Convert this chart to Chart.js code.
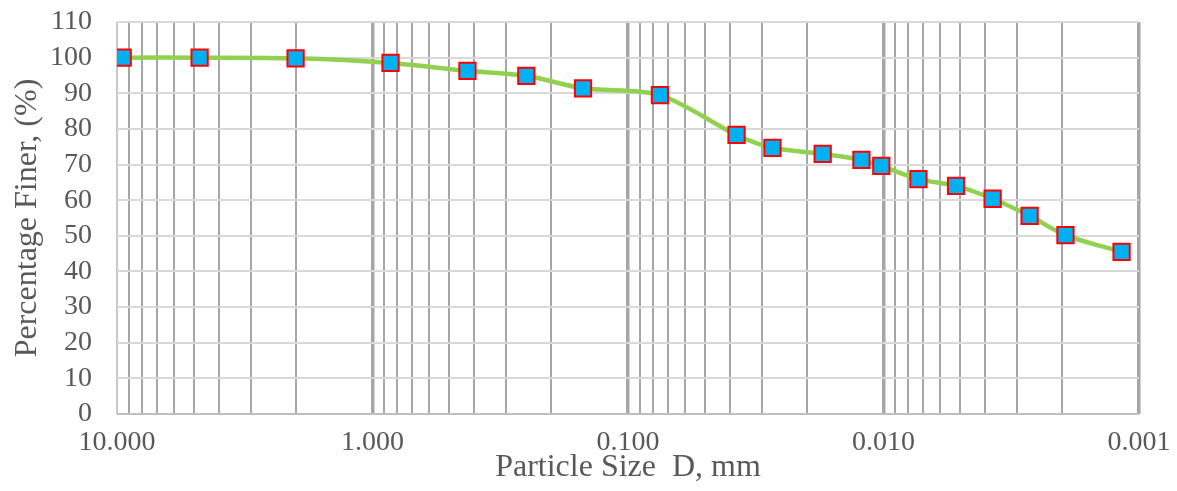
<!DOCTYPE html>
<html>
<head>
<meta charset="utf-8">
<script src="https://cdn.jsdelivr.net/npm/chart.js@4.4.0/dist/chart.umd.min.js"></script>
<style>
  html, body { margin: 0; padding: 0; background: #fff; }
  #wrap { width: 1177px; height: 491px; }
</style>
</head>
<body>
<div id="wrap"><canvas id="chartCanvas"></canvas></div>
<script>
// Grain size distribution (sieve + hydrometer)
const particleSize = [9.5, 4.75, 2.0, 0.85, 0.425, 0.25, 0.15, 0.075,
  0.0376, 0.0272, 0.0173, 0.0122, 0.0102, 0.0073, 0.0052, 0.00374, 0.00268, 0.00194, 0.00117];
const percentFiner = [100, 100, 99.8, 98.5, 96.3, 94.9, 91.4, 89.5,
  78.3, 74.7, 73.0, 71.3, 69.6, 65.9, 64.0, 60.4, 55.6, 50.2, 45.5];

// Axis ranges / ticks
const xDecades = [10, 1, 0.1, 0.01, 0.001];
const yMin = 0;
const yMax = 110;
const yStep = 10;

const textColor = '#595959';
const fontFamily = '"Liberation Serif", "Times New Roman", serif';

function isDecade(v) {
  return xDecades.some(d => Math.abs(v - d) < d * 1e-6);
}

const points = particleSize.map((d, i) => ({ x: d, y: percentFiner[i] }));

const ctx = document.getElementById('chartCanvas').getContext('2d');
const chart = new Chart(ctx, {
  type: 'line',
  data: {
    datasets: [{
      label: 'Percentage Finer',
      data: points,
      borderColor: '#92d050',
      borderWidth: 4.5,
      tension: 0.3,
      fill: false,
      pointStyle: 'rect',
      pointRadius: 11.5,
      pointHoverRadius: 11.5,
      pointBackgroundColor: '#00b0f0',
      pointBorderColor: '#ff0000',
      pointBorderWidth: 2,
    }]
  },
  options: {
    responsive: true,
    maintainAspectRatio: false,
    animation: false,
    events: [],
    layout: {
      padding: { top: 22, right: 38, left: 0, bottom: 0 }
    },
    plugins: {
      legend: { display: false },
      tooltip: { enabled: false }
    },
    scales: {
      x: {
        type: 'logarithmic',
        min: 0.001,
        max: 10,
        reverse: true,
        afterBuildTicks: (scale) => {
          const ticks = [];
          for (let e = -3; e <= 0; e++) {
            for (let s = 1; s <= 9; s++) {
              ticks.push({ value: s * Math.pow(10, e) });
            }
          }
          ticks.push({ value: 10 });
          scale.ticks = ticks;
        },
        afterFit: (scale) => { scale.height = 77; },
        border: { display: false },
        grid: {
          drawTicks: false,
          color: (c) => (c.tick && Math.abs(c.tick.value - 10) < 1e-6) ? '#c8c8c8' : '#a6a6a6',
          lineWidth: (c) => {
            if (!c.tick) return 2;
            if (Math.abs(c.tick.value - 10) < 1e-6) return 2;
            return isDecade(c.tick.value) ? 3.5 : 2;
          }
        },
        ticks: {
          autoSkip: false,
          maxRotation: 0,
          minRotation: 0,
          padding: 12,
          color: textColor,
          font: { family: fontFamily, size: 28 },
          callback: (v) => isDecade(v) ? Number(v).toFixed(3) : ''
        },
        title: {
          display: true,
          text: 'Particle Size  D, mm',
          color: textColor,
          font: { family: fontFamily, size: 32 },
          padding: { top: 0, bottom: 4 }
        }
      },
      y: {
        min: yMin,
        max: yMax,
        afterFit: (scale) => {
          scale.width = 117;
          // tick padding should not push the plot area down
          scale.paddingTop = 0;
          scale.paddingBottom = 0;
        },
        border: { display: false },
        grid: {
          drawTicks: false,
          color: (c) => (c.tick && c.tick.value === 0) ? '#bfbfbf' : '#d9d9d9',
          lineWidth: 2
        },
        ticks: {
          stepSize: yStep,
          autoSkip: false,
          padding: 25,
          color: textColor,
          font: { family: fontFamily, size: 28 }
        },
        title: {
          display: true,
          text: 'Percentage Finer, (%)',
          color: textColor,
          font: { family: fontFamily, size: 32 },
          padding: { top: 8, bottom: 0 }
        }
      }
    }
  }
});
</script>
</body>
</html>
